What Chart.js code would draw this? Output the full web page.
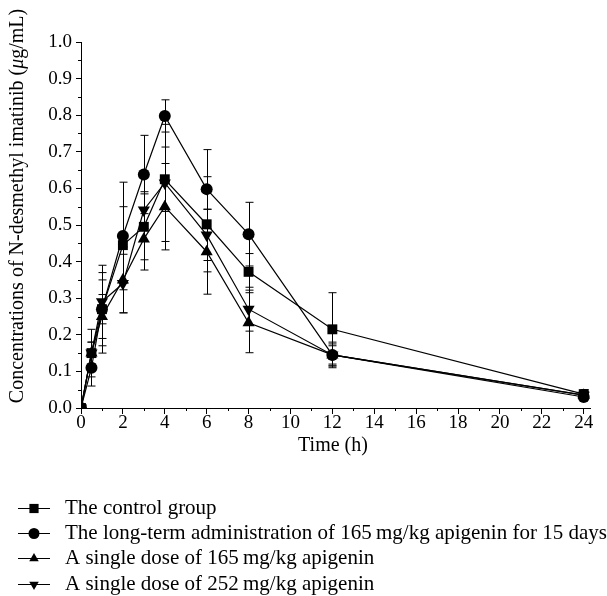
<!DOCTYPE html>
<html>
<head>
<meta charset="utf-8">
<script src="https://cdn.jsdelivr.net/npm/chart.js@4/dist/chart.umd.min.js"></script>
<style>
  html, body { margin: 0; padding: 0; background: #fff; }
  #wrap { width: 607px; height: 596px; position: relative; }
</style>
</head>
<body>
<div id="wrap"><canvas id="myChart"></canvas></div>
<script>
// Sampling times (h)
const times = [0, 0.5, 1, 2, 3, 4, 6, 8, 12, 24];

// Mean concentrations (ug/mL) and error bars
const controlGroup = [0, 0.15, 0.27, 0.445, 0.495, 0.625, 0.502, 0.372, 0.215, 0.038];
const controlSd = [0, 0.03, 0.1, 0.105, 0.09, 0.088, 0.13, 0.05, 0.1, 0.012];

const longTerm = [0, 0.11, 0.27, 0.47, 0.638, 0.798, 0.598, 0.475, 0.145, 0.03];
const longTermSd = [0, 0.05, 0.04, 0.147, 0.107, 0.044, 0.108, 0.087, 0.025, 0.008];

const single165 = [0, 0.15, 0.25, 0.35, 0.462, 0.55, 0.427, 0.233, 0.145, 0.035];
const single165Sd = [0, 0.065, 0.1, 0.09, 0.085, 0.118, 0.116, 0.082, 0.03, 0.01];

const single252 = [0, 0.15, 0.29, 0.34, 0.541, 0.615, 0.473, 0.27, 0.145, 0.035];
const single252Sd = [0, 0.03, 0.1, 0.08, 0.05, 0.16, 0.07, 0.06, 0.035, 0.01];

const seriesLabels = [
  'The control group',
  'The long-term administration of 165\u2009mg/kg apigenin for 15 days',
  'A single dose of 165\u2009mg/kg apigenin',
  'A single dose of 252\u2009mg/kg apigenin',
];

const xTicks = [0, 2, 4, 6, 8, 10, 12, 14, 16, 18, 20, 22, 24];
const yTicks = [0, 0.1, 0.2, 0.3, 0.4, 0.5, 0.6, 0.7, 0.8, 0.9, 1.0];

const FONT = '"Liberation Serif", "DejaVu Serif", serif';

const toPoints = (arr) => arr.map((v, i) => ({x: times[i], y: v}));
const errors = [controlSd, longTermSd, single165Sd, single252Sd];
const means = [controlGroup, longTerm, single165, single252];

// marker for the hand drawn legend
const drawMarker = (ctx, style, x, y, r) => {
  ctx.beginPath();
  if (style === 'rect') {
    const s = r * Math.SQRT1_2;
    ctx.rect(x - s, y - s, 2 * s, 2 * s);
  } else if (style === 'circle') {
    ctx.arc(x, y, r, 0, Math.PI * 2);
  } else {
    const dir = style === 'down' ? -1 : 1;
    ctx.moveTo(x, y - dir * r);
    ctx.lineTo(x - r * 0.866, y + dir * r * 0.5);
    ctx.lineTo(x + r * 0.866, y + dir * r * 0.5);
    ctx.closePath();
  }
  ctx.fill();
};

const extras = {
  id: 'extras',
  beforeDatasetsDraw(chart) {
    const {ctx, scales: {x, y}} = chart;
    ctx.save();
    ctx.strokeStyle = '#000';
    ctx.lineWidth = 1;
    means.forEach((arr, i) => {
      arr.forEach((v, j) => {
        const sd = errors[i][j];
        if (!sd) return;
        const px = Math.round(x.getPixelForValue(times[j])) + 0.5;
        const top = y.getPixelForValue(v + sd);
        const bot = y.getPixelForValue(v - sd);
        ctx.beginPath();
        ctx.moveTo(px, top); ctx.lineTo(px, bot);
        ctx.moveTo(px - 4, top); ctx.lineTo(px + 4, top);
        ctx.moveTo(px - 4, bot); ctx.lineTo(px + 4, bot);
        ctx.stroke();
      });
    });
    ctx.restore();
  },
  afterDraw(chart) {
    const {ctx, chartArea, scales: {x, y}} = chart;
    ctx.save();
    ctx.strokeStyle = '#000';
    ctx.lineWidth = 1;
    // minor ticks
    ctx.beginPath();
    for (let t = 1; t < 24; t += 2) {
      const px = Math.round(x.getPixelForValue(t)) + 0.5;
      ctx.moveTo(px, chartArea.bottom); ctx.lineTo(px, chartArea.bottom + 3);
    }
    for (let k = 0; k < 10; k++) {
      const py = Math.round(y.getPixelForValue(k * 0.1 + 0.05)) + 0.5;
      ctx.moveTo(chartArea.left, py); ctx.lineTo(chartArea.left - 3, py);
    }
    ctx.stroke();

    // axis titles
    ctx.fillStyle = '#000';
    ctx.font = '20px ' + FONT;
    ctx.textAlign = 'center';
    ctx.textBaseline = 'middle';
    ctx.fillText('Time (h)', 333, 446);

    ctx.save();
    ctx.translate(18, 206);
    ctx.rotate(-Math.PI / 2);
    const parts = [
      ['Concentrations of N-desmethyl imatinib (', 'normal'],
      ['\u03bc', 'italic'],
      ['g/mL)', 'normal'],
    ];
    let total = 0;
    parts.forEach(([t, s]) => { ctx.font = s + ' 20px ' + FONT; total += ctx.measureText(t).width; });
    let cx = -total / 2;
    ctx.textAlign = 'left';
    parts.forEach(([t, s]) => {
      ctx.font = s + ' 20px ' + FONT;
      ctx.fillText(t, cx, 0);
      cx += ctx.measureText(t).width;
    });
    ctx.restore();

    // legend
    const styles = ['rect', 'circle', 'up', 'down'];
    const rowY = [508, 533, 558, 584];
    ctx.textAlign = 'left';
    ctx.font = '21px ' + FONT;
    styles.forEach((s, i) => {
      const ly = rowY[i] + 0.5;
      ctx.beginPath();
      ctx.moveTo(18, ly); ctx.lineTo(50, ly);
      ctx.stroke();
      drawMarker(ctx, s, 34, ly, s === 'rect' ? 6.5 : 5.5);
      ctx.fillText(seriesLabels[i], 65, rowY[i]);
    });
    ctx.restore();
  }
};

const makeSet = (label, arr, style, rotation) => ({
  label: label,
  data: toPoints(arr),
  borderColor: '#000',
  backgroundColor: '#000',
  borderWidth: 1.2,
  pointStyle: style,
  pointRotation: rotation,
  pointRadius: style === 'rect' ? 7 : (style === 'circle' ? 6 : 7),
  pointBorderWidth: 0,
  tension: 0,
});

const ctx = document.getElementById('myChart');

const config = {
  type: 'line',
  data: {
    datasets: [
      makeSet(seriesLabels[0], controlGroup, 'rect', 0),
      makeSet(seriesLabels[1], longTerm, 'circle', 0),
      makeSet(seriesLabels[2], single165, 'triangle', 0),
      makeSet(seriesLabels[3], single252, 'triangle', 180),
    ]
  },
  options: {
    responsive: true,
    maintainAspectRatio: false,
    animation: false,
    layout: {padding: {left: 0, top: 42, right: 17, bottom: 148}},
    plugins: {
      legend: {display: false},
      tooltip: {enabled: false},
    },
    scales: {
      x: {
        type: 'linear',
        min: 0,
        max: 24.3,
        afterBuildTicks: (s) => { s.ticks = xTicks.map((v) => ({value: v})); },
        afterFit: (s) => { s.height = 40; },
        grid: {display: true, drawOnChartArea: false, drawTicks: true, tickLength: 6, color: '#000'},
        border: {display: true, color: '#000', width: 1},
        ticks: {color: '#000', font: {family: FONT, size: 19}, padding: -2, maxRotation: 0,
          callback: (v) => String(v)},
      },
      y: {
        type: 'linear',
        min: 0,
        max: 1,
        afterBuildTicks: (s) => { s.ticks = yTicks.map((v) => ({value: v})); },
        afterFit: (s) => { s.width = 81; },
        grid: {display: true, drawOnChartArea: false, drawTicks: true, tickLength: 5, color: '#000'},
        border: {display: true, color: '#000', width: 1},
        ticks: {color: '#000', font: {family: FONT, size: 19}, padding: 4,
          callback: (v) => Number(v).toFixed(1)},
      }
    }
  },
  plugins: [extras],
};

var myChart = new Chart(ctx, config);
</script>
</body>
</html>
